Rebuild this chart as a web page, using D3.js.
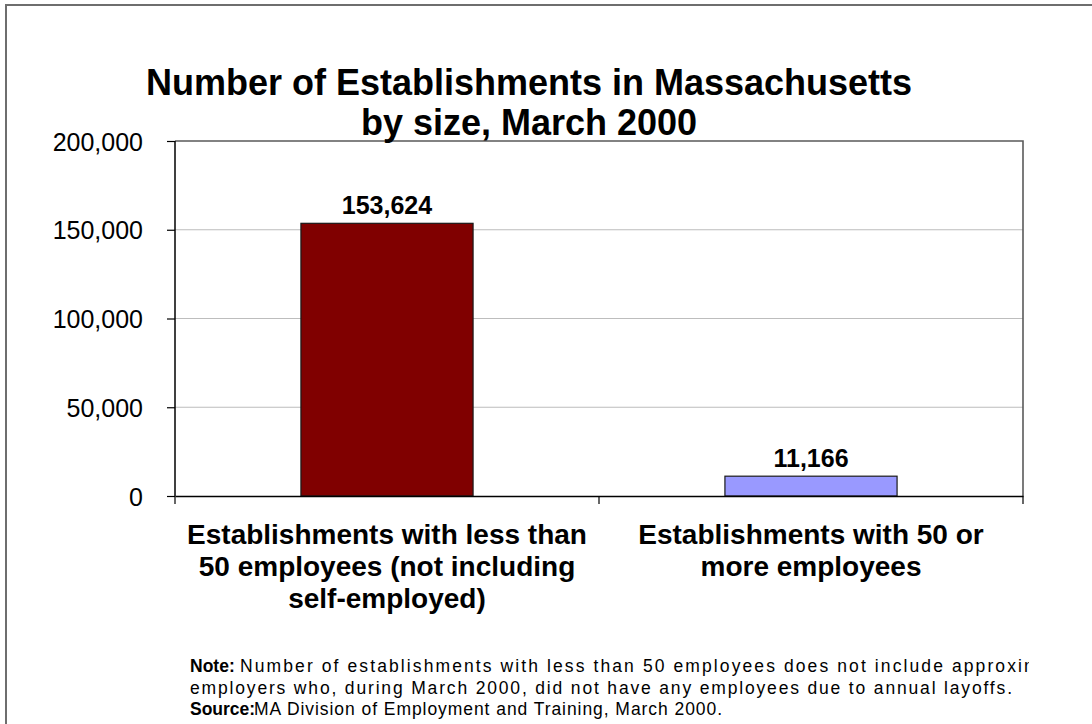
<!DOCTYPE html>
<html>
<head>
<meta charset="utf-8">
<script src="https://cdn.jsdelivr.net/npm/d3@7"></script>
<style>
  html, body { margin: 0; padding: 0; background: #fff; }
  svg { display: block; }
</style>
</head>
<body>
<svg id="chart" width="1092" height="724"></svg>
<script>
// Establishments by size, Massachusetts, March 2000
const categories = [
  ["Establishments with less than", "50 employees (not including", "self-employed)"],
  ["Establishments with 50 or", "more employees"]
];
const values = [153624, 11166];
const barColors = ["#800000", "#9999ff"];
const yTicks = [0, 50000, 100000, 150000, 200000];
const titleLines = ["Number of Establishments in Massachusetts", "by size, March 2000"];
const noteLabels = ["Note:", "", "Source:"];
const noteTexts = [
  "Number of establishments with less than 50 employees does not include approximately",
  "employers who, during March 2000, did not have any employees due to annual layoffs.",
  "MA Division of Employment and Training, March 2000."
];

const svg = d3.select("#chart");
const font = "'Liberation Sans', Arial, sans-serif";

// outer frame
svg.append("rect")
  .attr("x", 6).attr("y", 5).attr("width", 1200).attr("height", 800)
  .attr("fill", "none").attr("stroke", "#6e6e6e").attr("stroke-width", 2);

const plot = { left: 175, top: 141, right: 1023, bottom: 496 };

const y = d3.scaleLinear().domain([0, 200000]).range([plot.bottom, plot.top]);
const x = d3.scaleBand()
  .domain(d3.range(categories.length))
  .range([plot.left, plot.right])
  .paddingInner(0.594)
  .paddingOuter(0.297);
const band = d3.scaleBand()
  .domain(d3.range(categories.length))
  .range([plot.left, plot.right]);

// gridlines
svg.append("g")
  .selectAll("line")
  .data(yTicks.filter(d => d > 0 && d < 200000))
  .join("line")
  .attr("x1", plot.left).attr("x2", plot.right)
  .attr("y1", d => y(d)).attr("y2", d => y(d))
  .attr("stroke", "#bdbdbd").attr("stroke-width", 1.2);

// plot area frame (top and right)
svg.append("path")
  .attr("d", `M${plot.left},${plot.top}H${plot.right}V${plot.bottom}`)
  .attr("fill", "none").attr("stroke", "#5a5a5a").attr("stroke-width", 1.6);

// bars
svg.append("g")
  .selectAll("rect")
  .data(values)
  .join("rect")
  .attr("x", (d, i) => x(i))
  .attr("width", x.bandwidth())
  .attr("y", d => y(d))
  .attr("height", d => y(0) - y(d))
  .attr("fill", (d, i) => barColors[i])
  .attr("stroke", "#1a1a1a").attr("stroke-width", 1.2);

// value labels
svg.append("g")
  .selectAll("text")
  .data(values)
  .join("text")
  .attr("x", (d, i) => x(i) + x.bandwidth() / 2)
  .attr("y", d => y(d) - 9)
  .attr("text-anchor", "middle")
  .attr("font-family", font).attr("font-weight", "bold")
  .attr("font-size", 25).attr("fill", "#000")
  .text(d => d3.format(",")(d));

// y axis
const yAxis = d3.axisLeft(y).tickValues(yTicks).tickFormat(d3.format(",")).tickSize(8).tickPadding(24);
const gy = svg.append("g").attr("transform", `translate(${plot.left},0)`).call(yAxis);
gy.select(".domain").attr("stroke", "#000").attr("stroke-width", 1.5).attr("d", `M0,${plot.top}V${plot.bottom}`);
gy.selectAll(".tick line").attr("stroke", "#000").attr("stroke-width", 1.2);
gy.selectAll(".tick text")
  .attr("font-family", font).attr("font-size", 25).attr("fill", "#000")
  .attr("dy", "0.36em");

// x axis: ticks at category boundaries
const xAxis = d3.axisBottom(band).tickValues([]).tickSizeOuter(0);
const gx = svg.append("g").attr("transform", `translate(0,${plot.bottom})`).call(xAxis);
gx.select(".domain").attr("stroke", "#000").attr("stroke-width", 1.5);
gx.selectAll("line.bnd")
  .data([plot.left, band(1), plot.right])
  .join("line").attr("class", "bnd")
  .attr("x1", d => d).attr("x2", d => d)
  .attr("y1", 0).attr("y2", 8)
  .attr("stroke", "#000").attr("stroke-width", 1.2);

// category labels
const cat = svg.append("g")
  .selectAll("text")
  .data(categories)
  .join("text")
  .attr("text-anchor", "middle")
  .attr("font-family", font).attr("font-weight", "bold")
  .attr("font-size", 28).attr("fill", "#000");
cat.each(function(lines, i) {
  d3.select(this).selectAll("tspan")
    .data(lines)
    .join("tspan")
    .attr("x", band(i) + band.bandwidth() / 2)
    .attr("y", (d, j) => 544 + j * 32)
    .text(d => d);
});

// title
svg.append("g")
  .selectAll("text")
  .data(titleLines)
  .join("text")
  .attr("x", 529)
  .attr("y", (d, i) => 95 + i * 40)
  .attr("text-anchor", "middle")
  .attr("font-family", font).attr("font-weight", "bold")
  .attr("font-size", 36).attr("fill", "#000")
  .text(d => d);

// footnote: bold lead-in, then body text spread over its line
const noteLayout = [
  { bodyX: 240, bodyLen: 846 },
  { bodyX: 190, bodyLen: 822 },
  { bodyX: 254, bodyLen: 468 }
];
svg.append("clipPath").attr("id", "noteClip")
  .append("rect").attr("x", 0).attr("y", 640).attr("width", 1029).attr("height", 84);
const note = svg.append("g").attr("clip-path", "url(#noteClip)")
  .attr("font-family", font).attr("font-size", 17.5).attr("fill", "#000");
note.selectAll("text.lead")
  .data(noteLabels)
  .join("text").attr("class", "lead")
  .attr("x", 190)
  .attr("y", (d, i) => 672 + i * 21.5)
  .attr("font-weight", "bold")
  .text(d => d);
note.selectAll("text.body")
  .data(noteTexts)
  .join("text").attr("class", "body")
  .attr("x", (d, i) => noteLayout[i].bodyX)
  .attr("y", (d, i) => 672 + i * 21.5)
  .attr("textLength", (d, i) => noteLayout[i].bodyLen)
  .attr("lengthAdjust", "spacing")
  .text(d => d);
</script>
</body>
</html>
